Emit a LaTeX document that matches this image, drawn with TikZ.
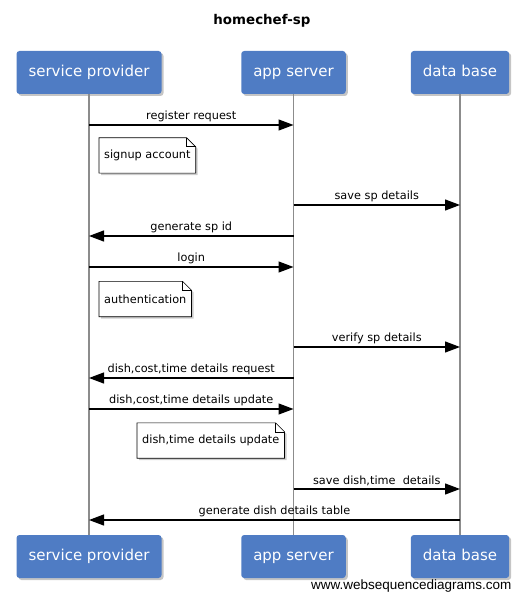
\documentclass[tikz,border=0pt]{standalone}
\usepackage{fontspec}
\setmainfont{DejaVu Sans}
\newfontfamily\webfont{Liberation Sans}
\usetikzlibrary{arrows.meta,shadows,backgrounds}
\definecolor{partblue}{RGB}{79,124,196}
\tikzset{
  part/.style={fill=partblue, rounded corners=3pt, text=white,
    font=\fontsize{15}{18}\selectfont, minimum height=43pt, inner xsep=12pt,
    text height=1.7ex, text depth=0.2ex,
    drop shadow={shadow xshift=2pt, shadow yshift=-2pt, fill=black!45}},
  life/.style={draw=black!45, line width=1.4pt},
  msg/.style={line width=1.2pt, -{Triangle[length=15pt,width=11pt]}},
  msglabel/.style={font=\fontsize{11.3}{13}\selectfont, above=-1pt},
  notetext/.style={font=\fontsize{11.3}{13}\selectfont, anchor=west,
    minimum height=35pt, inner xsep=5pt},
  noteline/.style={fill=white, draw=black, line width=0.6pt,
    drop shadow={shadow xshift=2pt, shadow yshift=-2pt, fill=black!40}}
}
\newcommand\drawnote[1]{%
  \begin{scope}[on background layer]
  \filldraw[noteline] (#1.north west) -- ([xshift=-9pt]#1.north east)
    -- ([yshift=-9pt]#1.north east) -- (#1.south east) -- (#1.south west) -- cycle;
  \draw[line width=0.6pt] ([xshift=-9pt]#1.north east) |- ([yshift=-9pt]#1.north east);
  \end{scope}
}

\begin{document}
\begin{tikzpicture}[x=1pt,y=-1pt]
  \useasboundingbox (0,0) rectangle (524,601);
  \node[font=\bfseries\fontsize{13.4}{16}\selectfont] (title) at (262,21) {homechef-sp};

  % participants
  \node[part] (sp) at (89,72.5) {service provider};
  \node[part] (as) at (293.5,72.5) {app server};
  \node[part] (db) at (460,72.5) {data base};
  \node[part] (spb) at (89,556.5) {service provider};
  \node[part] (asb) at (293.5,556.5) {app server};
  \node[part] (dbb) at (460,556.5) {data base};

  \draw[life] (sp.south) -- (spb.north);
  \draw[life] (as.south) -- (asb.north);
  \draw[life] (db.south) -- (dbb.north);

  % messages
  \foreach \y/\a/\b/\txt in {125/sp/as/{register request},
      205/as/db/{save sp details},
      236/as/sp/{generate sp id},
      267/sp/as/{login},
      347/as/db/{verify sp details},
      378/as/sp/{dish,cost,time details request},
      409/sp/as/{dish,cost,time details update},
      489/as/db/{save dish,time~ details},
      520/db/sp/{generate dish details table}} {
    \coordinate (m) at (0,\y);
    \draw[msg] (\a |- m) -- (\b |- m) node[midway, msglabel] {\txt};
  }

  % notes
  \node[notetext] (signup) at (99,155.5) {signup account};
  \drawnote{signup}
  \node[notetext] (auth) at (99,299) {authentication};
  \drawnote{auth}
  \node[notetext] (dishnote) at (137,440.5) {dish,time details update};
  \drawnote{dishnote}

  \node[anchor=east, font=\webfont\fontsize{13.5}{16}\selectfont] (web) at (515,586) {www.websequencediagrams.com};
\end{tikzpicture}
\end{document}
